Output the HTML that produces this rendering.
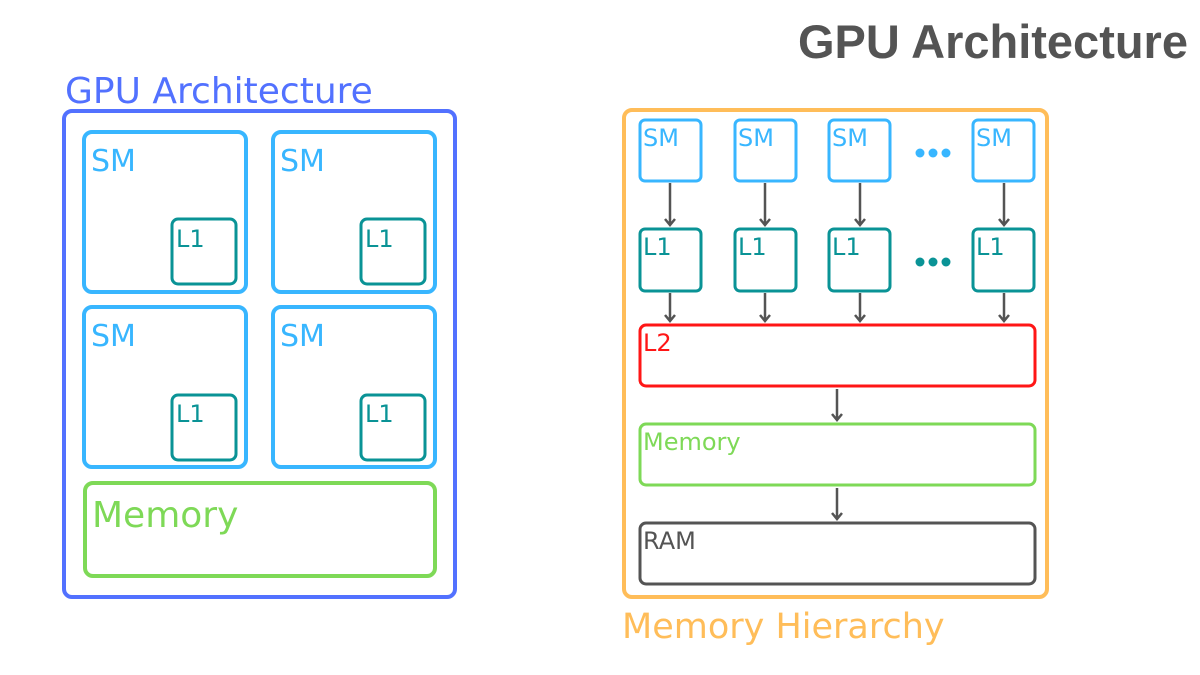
<!DOCTYPE html>
<html><head><meta charset="utf-8"><style>
html,body{margin:0;padding:0;background:#fff;}
svg{display:block;}
text{font-family:"DejaVu Sans","Liberation Sans",sans-serif;}
</style></head><body>
<svg width="1200" height="675" viewBox="0 0 1200 675" xmlns="http://www.w3.org/2000/svg">
<text x="1188" y="58" text-anchor="end" font-size="47" font-weight="bold" fill="#545454" style="font-family:'Liberation Sans',sans-serif">GPU Architecture</text>

<!-- Left -->
<text x="65" y="103" font-size="36" fill="#5271ff">GPU Architecture</text>
<rect x="64" y="111" width="391" height="486" rx="8" fill="none" stroke="#5271ff" stroke-width="4"/>
<g fill="none" stroke="#38b6ff" stroke-width="4">
<rect x="84" y="132" width="162" height="160" rx="8"/>
<rect x="273" y="132" width="162" height="160" rx="8"/>
<rect x="84" y="307" width="162" height="160" rx="8"/>
<rect x="273" y="307" width="162" height="160" rx="8"/>
</g>
<g fill="none" stroke="#0a9396" stroke-width="3">
<rect x="172" y="219" width="64" height="65" rx="6"/>
<rect x="361" y="219" width="64" height="65" rx="6"/>
<rect x="172" y="395" width="64" height="65" rx="6"/>
<rect x="361" y="395" width="64" height="65" rx="6"/>
</g>
<g font-size="30" fill="#38b6ff">
<text x="91" y="171">SM</text><text x="280" y="171">SM</text>
<text x="91" y="346">SM</text><text x="280" y="346">SM</text>
</g>
<g font-size="24" fill="#0a9396">
<text x="176" y="247">L1</text><text x="365" y="247">L1</text>
<text x="176" y="422">L1</text><text x="365" y="422">L1</text>
</g>
<rect x="85" y="483" width="350" height="93" rx="8" fill="none" stroke="#7ed957" stroke-width="4"/>
<text x="92" y="527" font-size="36" fill="#7ed957">Memory</text>

<!-- Right -->
<rect x="624" y="110" width="423" height="487" rx="8" fill="none" stroke="#ffbd59" stroke-width="4"/>
<text x="622" y="638" font-size="35" fill="#ffbd59">Memory Hierarchy</text>
<g fill="none" stroke="#38b6ff" stroke-width="3">
<rect x="640" y="120" width="61" height="61" rx="5"/>
<rect x="735" y="120" width="61" height="61" rx="5"/>
<rect x="829" y="120" width="61" height="61" rx="5"/>
<rect x="973" y="120" width="61" height="61" rx="5"/>
</g>
<g font-size="24" fill="#38b6ff">
<text x="643" y="146">SM</text><text x="738" y="146">SM</text><text x="832" y="146">SM</text><text x="976" y="146">SM</text>
</g>
<g fill="#38b6ff"><circle cx="920" cy="153" r="4.5"/><circle cx="933" cy="153" r="4.5"/><circle cx="946" cy="153" r="4.5"/></g>
<g fill="none" stroke="#0a9396" stroke-width="3">
<rect x="640" y="229" width="61" height="62" rx="5"/>
<rect x="735" y="229" width="61" height="62" rx="5"/>
<rect x="829" y="229" width="61" height="62" rx="5"/>
<rect x="973" y="229" width="61" height="62" rx="5"/>
</g>
<g font-size="24" fill="#0a9396">
<text x="643" y="255">L1</text><text x="738" y="255">L1</text><text x="832" y="255">L1</text><text x="976" y="255">L1</text>
</g>
<g fill="#0a9396"><circle cx="920" cy="262" r="4.5"/><circle cx="933" cy="262" r="4.5"/><circle cx="946" cy="262" r="4.5"/></g>
<g stroke="#545454" stroke-width="2.5" fill="none">
<path d="M670 183V225M665 219L670 225L675 219"/>
<path d="M765 183V225M760 219L765 225L770 219"/>
<path d="M860 183V225M855 219L860 225L865 219"/>
<path d="M1004 183V225M999 219L1004 225L1009 219"/>
<path d="M670 293V321M665 315L670 321L675 315"/>
<path d="M765 293V321M760 315L765 321L770 315"/>
<path d="M860 293V321M855 315L860 321L865 315"/>
<path d="M1004 293V321M999 315L1004 321L1009 315"/>
<path d="M837 389V420M832 414L837 420L842 414"/>
<path d="M837 488V519M832 513L837 519L842 513"/>
</g>
<rect x="640" y="325" width="395" height="61" rx="6" fill="none" stroke="#ff1616" stroke-width="3"/>
<text x="643" y="351" font-size="24" fill="#ff1616">L2</text>
<rect x="640" y="424" width="395" height="61" rx="6" fill="none" stroke="#7ed957" stroke-width="3"/>
<text x="643" y="450" font-size="24" fill="#7ed957">Memory</text>
<rect x="640" y="523" width="395" height="61" rx="6" fill="none" stroke="#545454" stroke-width="3"/>
<text x="643" y="549" font-size="24" fill="#545454">RAM</text>
</svg>
</body></html>
